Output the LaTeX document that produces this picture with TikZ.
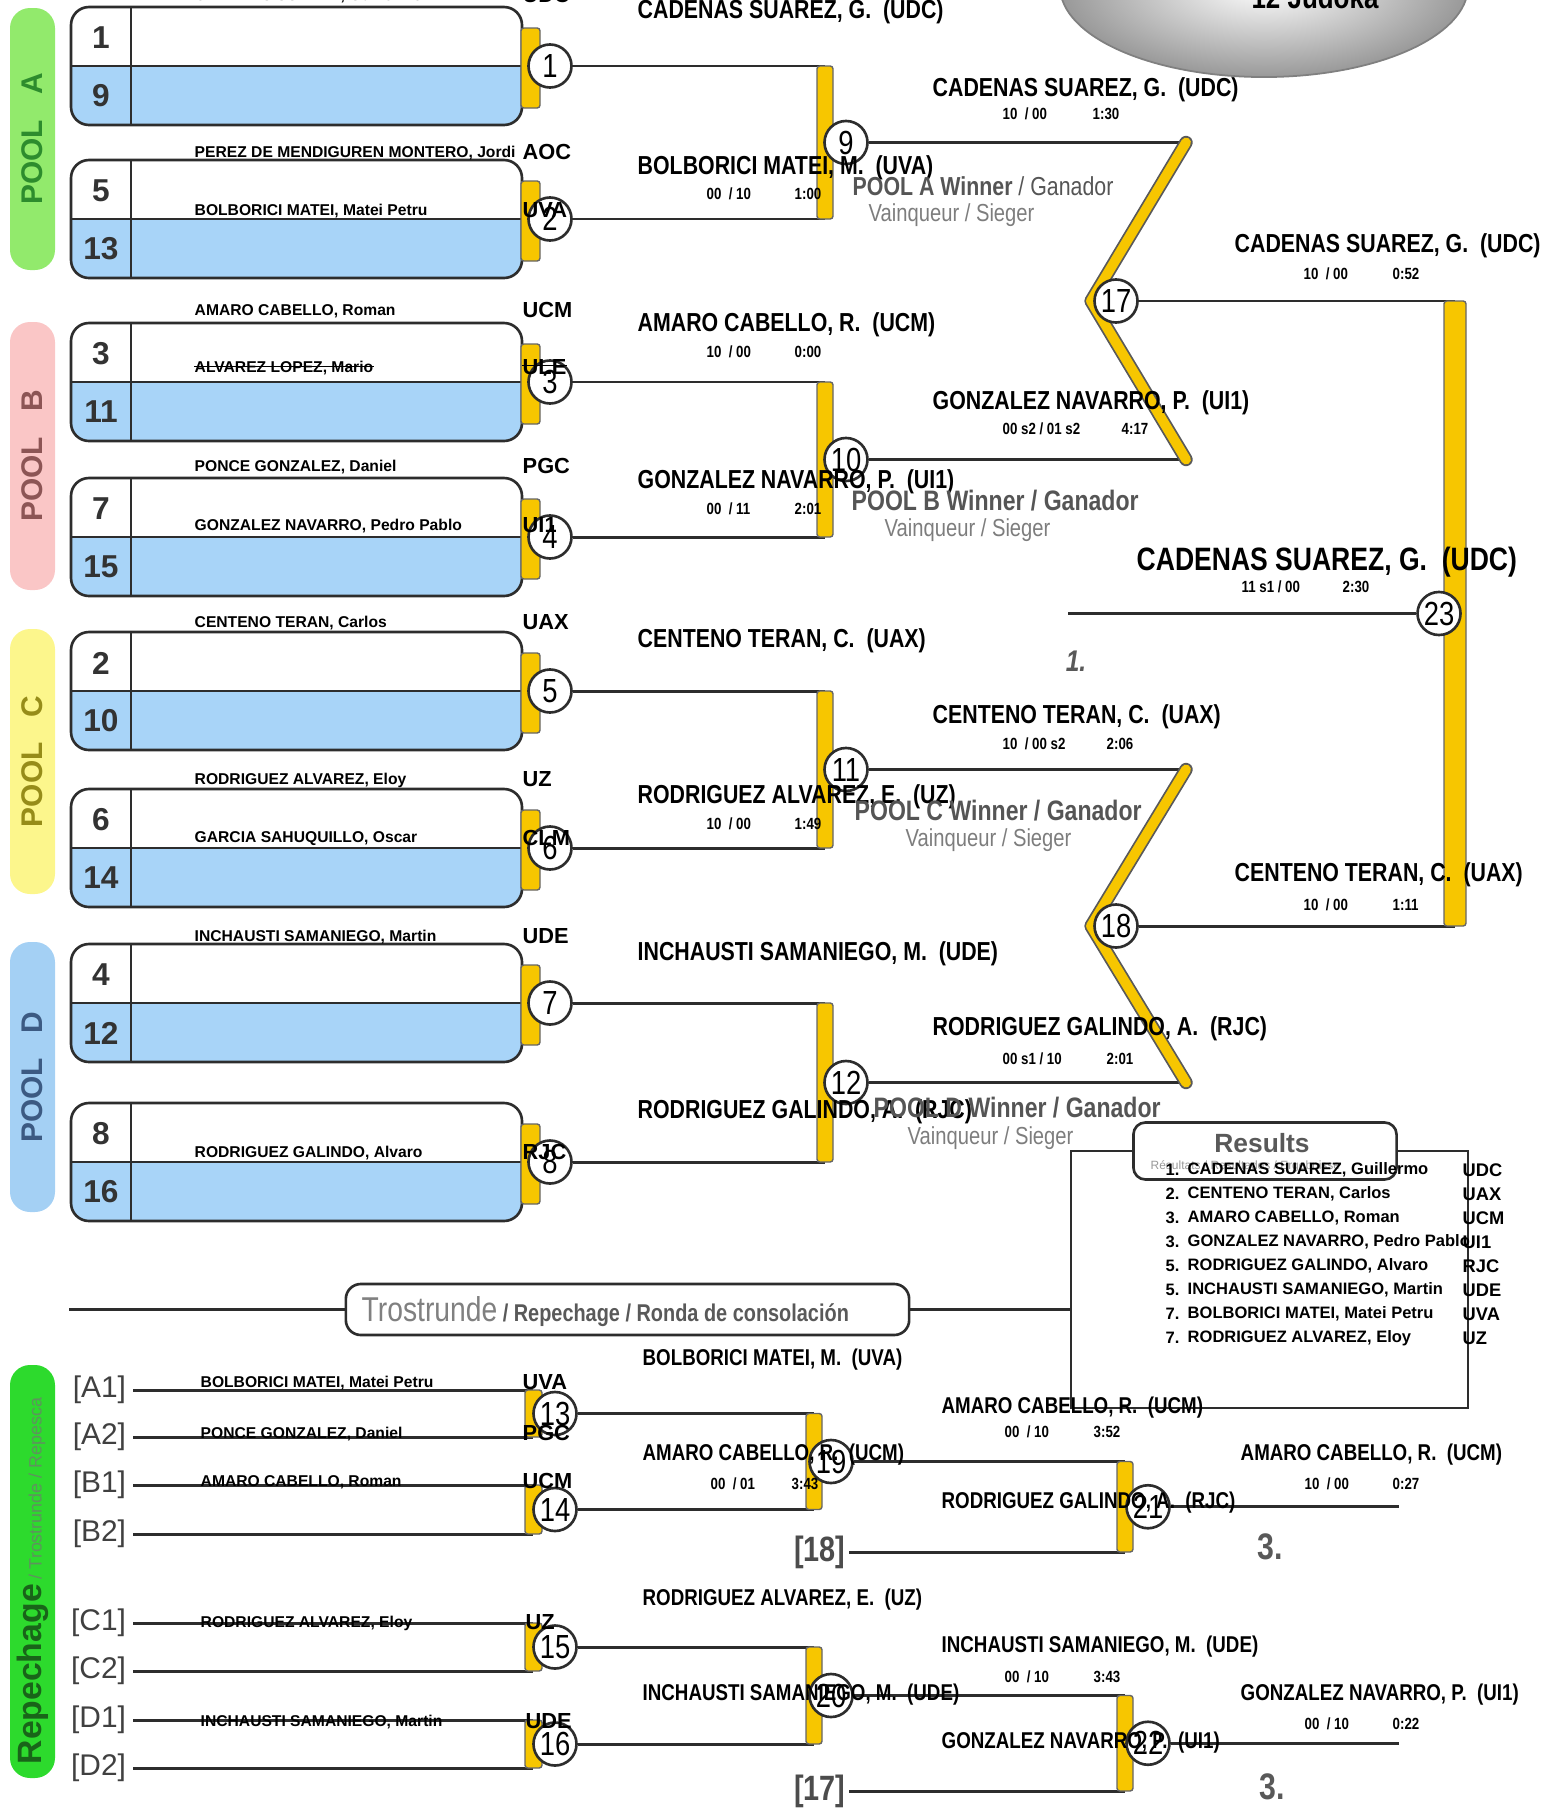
\documentclass[tikz,border=0pt]{standalone}
\usepackage{fontspec}
\setmainfont{Liberation Sans}
\newfontfamily\narrowfont[FakeStretch=0.82]{Liberation Sans}
\usetikzlibrary{calc}
\newcommand\fs[1]{\fontsize{#1}{#1}\selectfont}
\definecolor{line color}{RGB}{45,45,45}
\definecolor{seed blue}{RGB}{168,212,248}
\definecolor{bar yellow}{RGB}{247,198,0}
\definecolor{pool a}{RGB}{146,234,108}
\definecolor{pool a text}{RGB}{45,140,45}
\definecolor{pool b}{RGB}{250,198,198}
\definecolor{pool b text}{RGB}{140,85,85}
\definecolor{pool c}{RGB}{252,246,140}
\definecolor{pool c text}{RGB}{150,140,25}
\definecolor{pool d}{RGB}{164,208,244}
\definecolor{pool d text}{RGB}{60,90,130}
\definecolor{rep fill}{RGB}{45,218,45}
\definecolor{rep text}{RGB}{25,100,25}
\definecolor{winner gray}{RGB}{85,85,85}
\definecolor{sub gray}{RGB}{125,125,125}

\begin{document}
\begin{tikzpicture}[
	x=0.01cm, y=-0.01cm,
	wire/.style={draw=line color, line width=0.85pt},
	box line/.style={draw=line color, line width=0.75pt},
	tab/.style={fill=bar yellow, draw=black!60, line width=0.4pt, rounded corners=0.8pt},
	diag edge/.style={draw=black!65, line width=3.8pt, line cap=round, line join=round},
	diag fill/.style={draw=bar yellow, line width=2.8pt, line cap=round, line join=round},
	match/.style={circle, draw=line color, fill=white, line width=0.75pt, minimum size=0.43cm, inner sep=0pt, font=\narrowfont\fs{9.5}},
	seed/.style={inner sep=0pt, font=\bfseries\fs{9}, text=black!80},
	pool label/.style={rotate=90, inner sep=0pt, font=\bfseries\fs{8.5}},
	pname/.style={anchor=west, inner sep=0pt, font=\bfseries\fs{4.45}},
	club/.style={anchor=west, inner sep=0pt, font=\bfseries\fs{6.2}},
	bname/.style={anchor=west, inner sep=0pt, font=\narrowfont\bfseries\fs{7.4}},
	rname/.style={bname, font=\narrowfont\bfseries\fs{6.5}},
	score/.style={anchor=west, inner sep=0pt, font=\narrowfont\bfseries\fs{4.6}},
	winner/.style={anchor=west, inner sep=0pt, font=\narrowfont\fs{7.4}, text=winner gray},
	slot/.style={anchor=east, inner sep=0pt, outer sep=2pt, font=\fs{8.5}, text=black!75},
	ref/.style={anchor=east, inner sep=0pt, outer sep=1pt, font=\narrowfont\bfseries\fs{10}, text=black!70},
	place/.style={inner sep=0pt, font=\narrowfont\bfseries\fs{10.5}, text=black!65},
	res/.style={anchor=west, inner sep=0pt, font=\bfseries\fs{4.7}},
	res club/.style={anchor=west, inner sep=0pt, font=\bfseries\fs{5.2}}]

\useasboundingbox (0,0) rectangle (1543,1809);

% Judoka count
\shadedraw[draw=black!50, line width=0.5pt, inner color=white, outer color=black!40]
	(1264,-14) ellipse (2.04cm and 0.91cm);
\node[inner sep=0pt, font=\narrowfont\bfseries\fs{9}] (judoka) at (1315,-3) {12 Judoka};

% Pool labels
\foreach \y/\h/\cf/\ct/\p in {8/262/pool a/pool a text/A, 322/268/pool b/pool b text/B,
	629/265/pool c/pool c text/C, 942/270/pool d/pool d text/D} {
	\fill[fill=\cf, rounded corners=2mm] (10,\y) rectangle (55,\y+\h);
	\node[pool label, text=\ct] (pool\p) at (32,\y+\h/2) {POOL~~~\p};
}

% Seed boxes, first round
\foreach \y/\a/\b [count=\k] in {7/1/9, 160/5/13, 323/3/11, 478/7/15, 632/2/10, 789/6/14, 944/4/12, 1103/8/16} {
	\fill[white, rounded corners=1.8mm] (71,\y) rectangle (522,\y+118);
	\begin{scope}
		\clip[rounded corners=1.8mm] (71,\y) rectangle (522,\y+118);
		\fill[seed blue] (71,\y+59) rectangle (522,\y+118);
	\end{scope}
	\draw[box line, rounded corners=1.8mm] (71,\y) rectangle (522,\y+118);
	\draw[box line] (71,\y+59) -- (522,\y+59);
	\draw[box line] (131,\y) -- (131,\y+118);
	\node[seed] (s\a) at (101,\y+31) {\a};
	\node[seed] (s\b) at (101,\y+89) {\b};
	\draw[tab] (521,\y+21) rectangle (540,\y+101);
	\node[match] (m\k) at (550,\y+59) {\k};
}

% Pool finals
\foreach \k/\a/\b in {9/1/2, 10/3/4, 11/5/6, 12/7/8} {
	\path (m\a) ++(275,0) coordinate (t\k);
	\path (m\b) ++(275,0) coordinate (u\k);
	\draw[wire] (m\a) -- (t\k);
	\draw[wire] (m\b) -- (u\k);
	\draw[tab] ($(t\k)+(-8,0)$) rectangle ($(u\k)+(8,0)$);
	\node[match] (m\k) at ($(t\k)!.5!(u\k)+(21,0)$) {\k};
}

% Semifinals
\foreach \k/\a/\b in {17/9/10, 18/11/12} {
	\path (m\a) ++(340,0) coordinate (t\k);
	\path (m\b) ++(340,0) coordinate (u\k);
	\coordinate (v\k) at ($(t\k)!.5!(u\k)+(-95,0)$);
	\draw[wire] (m\a) -- (t\k);
	\draw[wire] (m\b) -- (u\k);
	\draw[diag edge] (t\k) -- (v\k) -- (u\k);
	\draw[diag fill] (t\k) -- (v\k) -- (u\k);
	\node[match] (m\k) at ($(v\k)+(25,0)$) {\k};
}

% Final
\path (m17) ++(339,0) coordinate (t23);
\path (m18) ++(339,0) coordinate (u23);
\draw[wire] (m17) -- (t23);
\draw[wire] (m18) -- (u23);
\draw[tab] ($(t23)+(-11,0)$) rectangle ($(u23)+(11,0)$);
\node[match] (m23) at ($(t23)!.5!(u23)+(-16,0)$) {23};
\path (m23) ++(-371,0) coordinate (champ);
\draw[wire] (m23) -- (champ);

% Results box
\node[box line, minimum width=3.97cm, minimum height=2.57cm, inner sep=0pt] (resbox) at (1269.5,1279.5) {};
\node[box line, fill=white, rounded corners=1.2mm, minimum width=2.63cm, minimum height=0.57cm] (restab) at (1265,1151) {};
\node[inner sep=0pt, font=\bfseries\fs{7.5}, text=black!65] (restitle) at (1262,1143) {Results};
\node[anchor=west, inner sep=0pt, font=\fs{3.4}, text=black!40] (ressub) at (1150,1166) {Résultats / Resultados / Ergebnisse};

% Repechage banner
\node[box line, fill=white, rounded corners=1.5mm, minimum width=5.63cm, minimum height=0.51cm] (trost) at (627.5,1309.5) {};
\coordinate (tleft) at (69,1309.5);
\draw[wire] (tleft) -- (trost);
\draw[wire] (trost) -- (trost -| resbox.west);
\node[anchor=west, inner sep=0pt] (trosttext) at (361,1312)
	{{\narrowfont\fs{9.8}\color{black!50}Trostrunde}{\narrowfont\bfseries\fs{6.9}\color{black!65}\ / Repechage / Ronda de consolación}};

% Repechage label
\fill[rep fill, rounded corners=2mm] (10,1365) rectangle (55,1778);
\node[rotate=90, anchor=west, inner sep=0pt] (replabel) at (33,1765)
	{{\bfseries\fs{9.6}\color{rep text}Repechage}{\fs{5.1}\color{rep text!70}\ / Trostrunde / Repesca}};

% Repechage first round
\foreach \t/\y in {A1/1390, A2/1437, B1/1485, B2/1534, C1/1623, C2/1671, D1/1720, D2/1768} {
	\node[slot] (r\t) at (133,\y) {[\t]};
	\coordinate (re\t) at (533,\y);
	\draw[wire] (r\t) -- (re\t);
}
\foreach \k/\p/\q in {13/A1/A2, 14/B1/B2, 15/C1/C2, 16/D1/D2} {
	\draw[tab] ($(re\p)+(-8,0)$) rectangle ($(re\q)+(9,0)$);
	\node[match] (m\k) at ($(re\p)!.5!(re\q)+(22,0)$) {\k};
}

% Repechage second round
\foreach \k/\a/\b in {19/13/14, 20/15/16} {
	\path (m\a) ++(259,0) coordinate (t\k);
	\path (m\b) ++(259,0) coordinate (u\k);
	\draw[wire] (m\a) -- (t\k);
	\draw[wire] (m\b) -- (u\k);
	\draw[tab] ($(t\k)+(-8,0)$) rectangle ($(u\k)+(8,0)$);
	\node[match] (m\k) at ($(t\k)!.5!(u\k)+(17,0)$) {\k};
}

% Bronze matches
\node[ref] (ref18) at (849,1552) {[18]};
\node[ref] (ref17) at (849,1791) {[17]};
\foreach \k/\a/\r in {21/19/18, 22/20/17} {
	\path (m\a) ++(294,0) coordinate (t\k);
	\coordinate (u\k) at (t\k |- ref\r);
	\draw[wire] (m\a) -- (t\k);
	\draw[wire] (ref\r) -- (u\k);
	\draw[tab] ($(t\k)+(-8,0)$) rectangle ($(u\k)+(8,0)$);
	\node[match] (m\k) at ($(t\k)!.5!(u\k)+(23,0)$) {\k};
	\path (m\k) ++(251,0) coordinate (e\k);
	\draw[wire] (m\k) -- (e\k);
}

% Names in the seed boxes
\foreach \y/\n/\c [count=\k] in {-4/{CADENAS SUAREZ, Guillermo}/UDC, 153/{PEREZ DE MENDIGUREN MONTERO, Jordi}/AOC,
	211/{BOLBORICI MATEI, Matei Petru}/UVA, 311/{AMARO CABELLO, Roman}/UCM,
	467/{PONCE GONZALEZ, Daniel}/PGC, 526/{GONZALEZ NAVARRO, Pedro Pablo}/UI1,
	623/{CENTENO TERAN, Carlos}/UAX, 780/{RODRIGUEZ ALVAREZ, Eloy}/UZ,
	839/{GARCIA SAHUQUILLO, Oscar}/CLM, 937/{INCHAUSTI SAMANIEGO, Martin}/UDE,
	1153/{RODRIGUEZ GALINDO, Alvaro}/RJC} {
	\node[pname] (pn\k) at (194,\y) {\n};
	\node[club] (pc\k) at (522,\y-1) {\c};
}
\node[pname] (pnx) at (194,368) {ALVAREZ LOPEZ, Mario};
\node[club] (pcx) at (522,367) {ULE};
\draw[line width=0.45pt] ([yshift=0.4pt]pnx.west) -- ([yshift=0.4pt]pnx.east);
\draw[line width=0.45pt] ([yshift=0.4pt]pcx.west) -- ([yshift=0.4pt]pcx.east);

% Names in the repechage
\foreach \y/\n/\c/\cx [count=\k] in {1383/{BOLBORICI MATEI, Matei Petru}/UVA/522, 1434/{PONCE GONZALEZ, Daniel}/PGC/522,
	1482/{AMARO CABELLO, Roman}/UCM/522, 1623/{RODRIGUEZ ALVAREZ, Eloy}/UZ/525,
	1722/{INCHAUSTI SAMANIEGO, Martin}/UDE/525} {
	\node[pname] (rn\k) at (200,\y) {\n};
	\node[club] (rc\k) at (\cx,\y-1) {\c};
}

% Winners
\foreach \x/\y/\n [count=\k] in {637/12/{CADENAS SUAREZ, G.~~(UDC)}, 637/168/{BOLBORICI MATEI, M.~~(UVA)},
	932/90/{CADENAS SUAREZ, G.~~(UDC)}, 637/325/{AMARO CABELLO, R.~~(UCM)},
	637/482/{GONZALEZ NAVARRO, P.~~(UI1)}, 932/403/{GONZALEZ NAVARRO, P.~~(UI1)},
	1234/246/{CADENAS SUAREZ, G.~~(UDC)}, 637/641/{CENTENO TERAN, C.~~(UAX)},
	637/797/{RODRIGUEZ ALVAREZ, E.~~(UZ)}, 932/717/{CENTENO TERAN, C.~~(UAX)},
	1234/875/{CENTENO TERAN, C.~~(UAX)}, 637/954/{INCHAUSTI SAMANIEGO, M.~~(UDE)},
	932/1029/{RODRIGUEZ GALINDO, A.~~(RJC)}, 637/1112/{RODRIGUEZ GALINDO, A.~~(RJC)}} {
	\node[bname] (bn\k) at (\x,\y) {\n};
}
\node[bname, font=\narrowfont\bfseries\fs{9.2}] (champion) at (1136,562) {CADENAS SUAREZ, G.~~(UDC)};
\foreach \x/\y/\n [count=\k] in {642/1360/{BOLBORICI MATEI, M.~~(UVA)}, 642/1455/{AMARO CABELLO, R.~~(UCM)},
	941/1408/{AMARO CABELLO, R.~~(UCM)}, 941/1503/{RODRIGUEZ GALINDO, A.~~(RJC)},
	1240/1455/{AMARO CABELLO, R.~~(UCM)}, 642/1600/{RODRIGUEZ ALVAREZ, E.~~(UZ)},
	941/1647/{INCHAUSTI SAMANIEGO, M.~~(UDE)}, 642/1695/{INCHAUSTI SAMANIEGO, M.~~(UDE)},
	941/1743/{GONZALEZ NAVARRO, P.~~(UI1)}, 1240/1695/{GONZALEZ NAVARRO, P.~~(UI1)}} {
	\node[rname] (rb\k) at (\x,\y) {\n};
}

% Scores and times
\foreach \x/\y/\s/\tx/\tm [count=\k] in {706/194/{00~~/ 10}/794/1:00, 1002/114/{10~~/ 00}/1092/1:30,
	706/352/{10~~/ 00}/794/0:00, 706/509/{00~~/ 11}/794/2:01,
	1002/429/{00 s2 / 01 s2}/1121/4:17, 1303/274/{10~~/ 00}/1392/0:52,
	1241/587/{11 s1 / 00}/1342/2:30, 1002/744/{10~~/ 00 s2}/1106/2:06,
	706/824/{10~~/ 00}/794/1:49, 1303/905/{10~~/ 00}/1392/1:11,
	1002/1059/{00 s1 / 10}/1106/2:01, 710/1484/{00~~/ 01}/791/3:43,
	1004/1432/{00~~/ 10}/1093/3:52, 1304/1484/{10~~/ 00}/1392/0:27,
	1004/1677/{00~~/ 10}/1093/3:43, 1304/1724/{00~~/ 10}/1392/0:22} {
	\node[score] (sc\k) at (\x,\y) {\s};
	\node[score] (tm\k) at (\tx,\y) {\tm};
}

% Pool winner notes
\node[winner] (winA) at (852,186) {{\bfseries POOL A Winner} / Ganador};
\node[winner, font=\narrowfont\bfseries\fs{8}] (winB) at (851,501) {POOL B Winner / Ganador};
\node[winner, font=\narrowfont\bfseries\fs{8}] (winC) at (854,811) {POOL C Winner / Ganador};
\node[winner, font=\narrowfont\bfseries\fs{8}] (winD) at (873,1108) {POOL D Winner / Ganador};
\foreach \x/\y/\p in {868/215/A, 884/530/B, 905/840/C, 907/1138/D} {
	\node[winner, text=sub gray, font=\narrowfont\fs{7}] (vain\p) at (\x,\y) {Vainqueur / Sieger};
}

% Places
\node[place, font=\narrowfont\bfseries\itshape\fs{8.5}] (first) at (1076,661) {1.};
\node[place] (thirdA) at (1270,1547) {3.};
\node[place] (thirdB) at (1272,1787) {3.};

% Results list
\foreach \r/\n/\c [count=\k] in {1/{CADENAS SUAREZ, Guillermo}/UDC, 2/{CENTENO TERAN, Carlos}/UAX,
	3/{AMARO CABELLO, Roman}/UCM, 3/{GONZALEZ NAVARRO, Pedro Pablo}/UI1,
	5/{RODRIGUEZ GALINDO, Alvaro}/RJC, 5/{INCHAUSTI SAMANIEGO, Martin}/UDE,
	7/{BOLBORICI MATEI, Matei Petru}/UVA, 7/{RODRIGUEZ ALVAREZ, Eloy}/UZ} {
	\node[res] (rk\k) at (1165,1146+24*\k) {\r.};
	\node[res] (rs\k) at (1187,1146+24*\k) {\n};
	\node[res club] (rcl\k) at (1462,1146+24*\k) {\c};
}

\end{tikzpicture}
\end{document}
